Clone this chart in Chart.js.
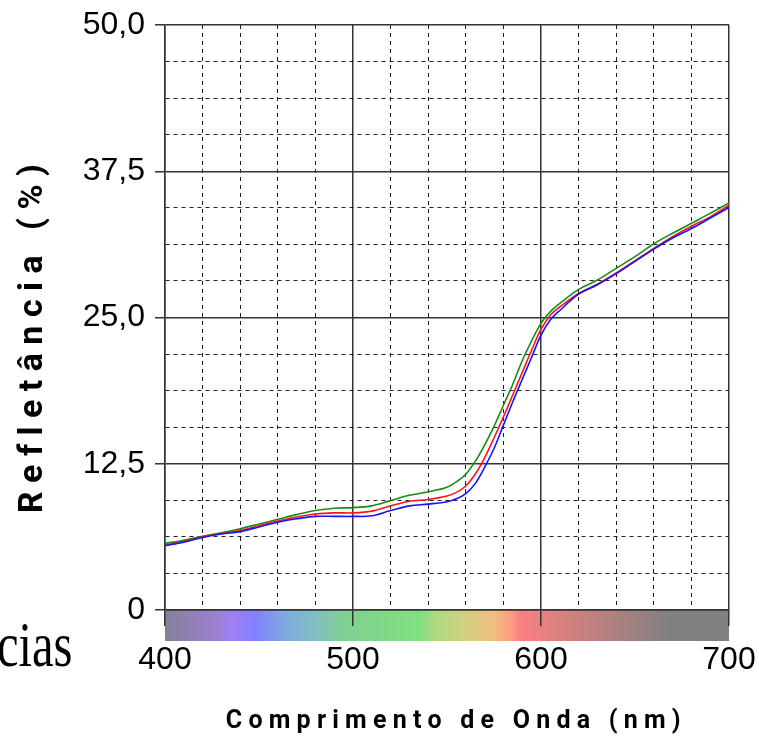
<!DOCTYPE html>
<html><head><meta charset="utf-8">
<script src="https://cdn.jsdelivr.net/npm/chart.js@4.4.1/dist/chart.umd.min.js"></script>
<style>
html,body{margin:0;padding:0;background:#fff;}
#wrap{position:relative;width:759px;height:747px;overflow:hidden;background:#fff;}
#side{position:absolute;right:687px;top:613px;font-family:'Liberation Serif','Times New Roman',serif;font-size:64px;line-height:64px;white-space:nowrap;color:#000;transform:scaleX(0.76);transform-origin:right top;}
</style></head><body>
<div id="wrap"><canvas id="c" width="759" height="747"></canvas><div id="side">cias</div></div>
<script>
// ---- data ----
const wavelengths = [400,410,420,430,440,450,460,470,480,490,500,510,520,530,540,550,555,560,565,570,575,580,585,590,595,600,605,610,620,630,640,650,660,670,680,690,700];
const greenSeries = [5.7,5.95,6.3,6.6,6.95,7.35,7.75,8.15,8.5,8.7,8.75,8.9,9.35,9.8,10.1,10.5,10.95,11.6,12.7,14.1,15.7,17.5,19.3,21.3,23.0,24.5,25.5,26.2,27.4,28.2,29.2,30.2,31.3,32.2,33.05,33.9,34.8];
const redSeries   = [5.55,5.85,6.25,6.55,6.8,7.2,7.6,7.95,8.2,8.3,8.3,8.45,8.9,9.3,9.45,9.75,10.05,10.6,11.6,13.0,14.7,16.5,18.4,20.3,22.2,24.0,25.2,25.9,27.05,27.85,28.8,29.85,30.9,31.9,32.8,33.6,34.6];
const blueSeries  = [5.5,5.8,6.2,6.5,6.7,7.1,7.5,7.8,8.0,8.0,8.0,8.05,8.5,8.9,9.05,9.25,9.5,9.95,10.8,12.2,13.8,15.8,17.8,19.7,21.6,23.5,24.8,25.6,27.0,27.8,28.75,29.8,30.85,31.8,32.6,33.5,34.4];
const xMajorTicks = [400,500,600,700];
const xTickLabels = ['400','500','600','700'];
const yMajorTicks = [0,12.5,25,37.5,50];
const yTickLabels = ['0','12,5','25,0','37,5','50,0'];
const xTitle = '\u00a0\u00a0C o m p r i m e n t o   d e   O n d a   ( n m )';
const yTitle = 'R e f l e t â n c i a   ( % )\u00a0\u00a0\u00a0\u00a0\u00a0';
const spectrumStops = [[0,'#85809a'],[0.09,'#9a80d0'],[0.12,'#a080f5'],[0.16,'#8080ff'],[0.21,'#80a8e0'],[0.27,'#80c0c0'],[0.32,'#80d090'],[0.45,'#80e080'],[0.48,'#b0d880'],[0.53,'#d0d080'],[0.58,'#f0c080'],[0.615,'#fa9a80'],[0.63,'#fa8080'],[0.76,'#c08080'],[0.9,'#808080'],[1,'#858080']];

const near = (a,b) => Math.abs(a-b) < 1e-6;
const isMajorX = v => xMajorTicks.some(t => near(t,v));
const isMajorY = v => yMajorTicks.some(t => near(t,v));
const majorColor = '#333333';
const minorColor = '#1e1e1e';
const tickFont = {family:"'Liberation Sans', Arial, sans-serif", size:32};
const titleFontFamily = "Roboto,'Liberation Sans',sans-serif";

const spectrumBar = {
  id:'spectrumBar',
  beforeDraw(chart){
    const {ctx, chartArea:a} = chart;
    const g = ctx.createLinearGradient(a.left,0,a.right,0);
    spectrumStops.forEach(s => g.addColorStop(s[0], s[1]));
    ctx.save();
    ctx.fillStyle = '#fff';
    ctx.fillRect(0,0,chart.width,chart.height);
    ctx.fillStyle = g;
    ctx.fillRect(a.left, a.bottom, a.right-a.left, 31);
    ctx.restore();
  }
};

const mk = (label, arr, color) => ({
  label, data: wavelengths.map((w,i)=>({x:w,y:arr[i]})),
  borderColor: color, borderWidth: 1.6, pointRadius: 0, fill: false,
  tension: 0.35
});

new Chart(document.getElementById('c'), {
  type: 'line',
  data: { datasets: [ mk('Azul', blueSeries, '#1414ff'), mk('Vermelho', redSeries, '#ff1414'), mk('Verde', greenSeries, '#158c15') ] },
  options: {
    responsive: false, animation: false,
    layout: { padding: { top: 25, right: 30, left: 0, bottom: 0 } },
    plugins: { legend: { display: false }, tooltip: { enabled: false } },
    scales: {
      x: {
        type: 'linear', min: 400, max: 700,
        ticks: { stepSize: 20, autoSkip: false, maxRotation: 0, padding: 15, color: '#000', font: tickFont,
          callback: v => { const i = xMajorTicks.findIndex(t => near(t,v)); return i >= 0 ? xTickLabels[i] : ''; } },
        grid: {
          color: c => (c.tick && isMajorX(c.tick.value)) ? majorColor : minorColor,
          lineWidth: c => (c.tick && isMajorX(c.tick.value)) ? 1.5 : 1,
          tickLength: 16, tickWidth: 1.5,
          tickColor: c => (c.tick && isMajorX(c.tick.value)) ? majorColor : 'rgba(0,0,0,0)'
        },
        border: { display: true, color: majorColor, width: 1.5,
          dash: c => (c.tick && !isMajorX(c.tick.value)) ? [4,4] : [] },
        title: { display: true, text: xTitle, color: '#000', padding: { top: 0, bottom: 10 },
          font: { family: titleFontFamily, size: 25, weight: 'bold' } },
        afterFit: s => { s.height = 137; s.paddingLeft = 0; s.paddingRight = 0; }
      },
      y: {
        type: 'linear', min: 0, max: 50,
        ticks: { stepSize: 3.125, autoSkip: false, padding: 10, color: '#000', font: tickFont,
          callback: v => { const i = yMajorTicks.findIndex(t => near(t,v)); return i >= 0 ? yTickLabels[i] : ''; } },
        grid: {
          color: c => (c.tick && isMajorY(c.tick.value)) ? majorColor : minorColor,
          lineWidth: c => (c.tick && isMajorY(c.tick.value)) ? 1.5 : 1,
          tickLength: 10, tickWidth: 1.5,
          tickColor: c => (c.tick && isMajorY(c.tick.value)) ? majorColor : 'rgba(0,0,0,0)'
        },
        border: { display: true, color: majorColor, width: 1.5,
          dash: c => (c.tick && !isMajorY(c.tick.value)) ? [4,4] : [] },
        title: { display: true, text: yTitle, color: '#000', padding: { top: 13, bottom: 0 },
          font: { family: titleFontFamily, size: 34, weight: 'bold' } },
        afterFit: s => { s.width = 165; s.paddingTop = 0; s.paddingBottom = 0; }
      }
    }
  },
  plugins: [spectrumBar]
});
</script>
</body></html>
